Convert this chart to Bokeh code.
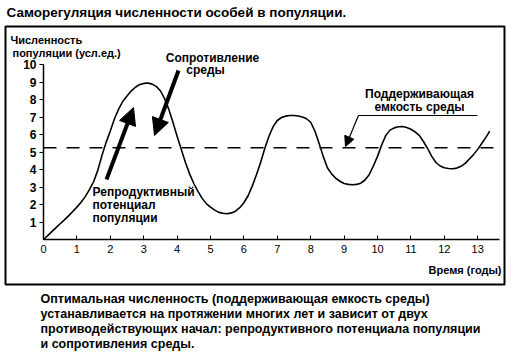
from bokeh.plotting import figure
from bokeh.models import LinearAxis, FixedTicker, Range1d, Label, Arrow, NormalHead
from bokeh.embed import file_html
from bokeh.resources import INLINE

# ---- data ----
years = [0, 0.125, 0.25, 0.375, 0.5, 0.625, 0.75, 0.875, 1.0, 1.125, 1.25, 1.375,
         1.5, 1.625, 1.75, 1.875, 2.0, 2.125, 2.25, 2.375, 2.5, 2.625, 2.75, 2.875,
         3.0, 3.125, 3.25, 3.375, 3.5, 3.625, 3.75, 3.875, 4.0, 4.125, 4.25, 4.375,
         4.5, 4.625, 4.75, 4.875, 5.0, 5.125, 5.25, 5.375, 5.5, 5.625, 5.75, 5.875,
         6.0, 6.125, 6.25, 6.375, 6.5, 6.625, 6.75, 6.875, 7.0, 7.125, 7.25, 7.375,
         7.5, 7.625, 7.75, 7.875, 8.0, 8.125, 8.25, 8.375, 8.5, 8.625, 8.75, 8.875,
         9.0, 9.125, 9.25, 9.375, 9.5, 9.625, 9.75, 9.875, 10.0, 10.125, 10.25, 10.375,
         10.5, 10.625, 10.75, 10.875, 11.0, 11.125, 11.25, 11.375, 11.5, 11.625, 11.75,
         11.875, 12.0, 12.125, 12.25, 12.375, 12.5, 12.625, 12.75, 12.875, 13.0, 13.125,
         13.25, 13.36]
population = [0, 0.22, 0.45, 0.68, 0.9, 1.12, 1.35, 1.6, 1.85, 2.13, 2.45, 2.85,
              3.3, 3.95, 4.8, 5.55, 6.2, 6.9, 7.45, 7.9, 8.2, 8.48, 8.7, 8.85,
              8.92, 8.94, 8.88, 8.75, 8.5, 8.05, 7.45, 6.7, 5.9, 5.15, 4.4, 3.75,
              3.2, 2.75, 2.35, 2.05, 1.85, 1.68, 1.55, 1.5, 1.47, 1.52, 1.62, 1.82,
              2.1, 2.5, 3.05, 3.7, 4.4, 5.2, 5.9, 6.45, 6.8, 6.97, 7.05, 7.09,
              7.09, 7.06, 7.0, 6.9, 6.7, 6.2, 5.5, 4.75, 4.1, 3.75, 3.5, 3.33,
              3.2, 3.15, 3.13, 3.15, 3.22, 3.4, 3.7, 4.2, 4.75, 5.4, 5.95, 6.25,
              6.38, 6.44, 6.46, 6.4, 6.3, 6.15, 5.95, 5.6, 5.2, 4.75, 4.4,
              4.2, 4.1, 4.06, 4.04, 4.08, 4.18, 4.35, 4.6, 4.85, 5.15, 5.5,
              5.85, 6.19]
carrying_capacity = 5.24
x_ticks = list(range(0, 14))
y_ticks = list(range(1, 11))

title_text = "Саморегуляция численности особей в популяции."
ylabel_lines = ["Численность", "популяции (усл.ед.)"]
xlabel_text = "Время (годы)"
resist_lines = ["Сопротивление", "среды"]
repro_lines = ["Репродуктивный", "потенциал", "популяции"]
capacity_lines = ["Поддерживающая", "емкость среды"]
caption_lines = [
    "Оптимальная численность (поддерживающая емкость среды)",
    "устанавливается на протяжении многих лет и зависит от двух",
    "противодействующих начал: репродуктивного потенциала популяции",
    "и сопротивления среды.",
]

# ---- pixel <-> data mapping (frame covers the whole canvas) ----
X0, SX = 43.0, 33.4
Y0, SY = 239.0, 17.5
def X(px):
    return (px - X0) / SX
def Y(py):
    return (Y0 - py) / SY

W, H = 523, 359
FONT = "Liberation Sans"

p = figure(width=W, height=H, x_range=Range1d(X(0), X(W)), y_range=Range1d(Y(H), Y(0)),
           min_border=0, toolbar_location=None, output_backend="svg",
           x_axis_location=None, y_axis_location=None, outline_line_color=None,
           background_fill_color="white", border_fill_color="white")
p.grid.visible = False
p.styles = {"position": "absolute", "left": "0px", "top": "0px"}

# outer box
p.quad(left=[X(5)], right=[X(504)], top=[Y(26)], bottom=[Y(284)],
       fill_color=None, line_color="black", line_width=2)

# axes
xaxis = LinearAxis(fixed_location=0, bounds=(0, X(499)), ticker=FixedTicker(ticks=x_ticks),
                   major_tick_in=4, major_tick_out=0, minor_tick_in=0, minor_tick_out=0,
                   axis_line_width=1.5, axis_line_color="black", major_tick_line_color="black",
                   major_label_text_font=FONT, major_label_text_font_size="11px",
                   major_label_text_color="black", major_label_standoff=5)
p.add_layout(xaxis, "below")
yaxis = LinearAxis(fixed_location=0, bounds=(0, 10), ticker=FixedTicker(ticks=y_ticks),
                   major_tick_in=0, major_tick_out=4, minor_tick_in=0, minor_tick_out=0,
                   axis_line_width=1.5, axis_line_color="black", major_tick_line_color="black",
                   major_label_text_font=FONT, major_label_text_font_size="12px",
                   major_label_text_font_style="bold",
                   major_label_text_color="black", major_label_standoff=3)
p.add_layout(yaxis, "left")

# carrying capacity dashed line
p.line([0, X(499)], [carrying_capacity, carrying_capacity], line_color="black",
       line_width=1.5, line_dash="13 10")

# population curve
p.line(years, population, line_color="black", line_width=1.6, line_join="round")

# arrows
p.add_layout(Arrow(x_start=X(106), y_start=Y(179), x_end=X(133), y_end=Y(107),
                   line_width=4, line_color="black",
                   end=NormalHead(size=17, fill_color="black", line_color="black", line_width=1)))
p.add_layout(Arrow(x_start=X(178), y_start=Y(70), x_end=X(154), y_end=Y(135),
                   line_width=4, line_color="black",
                   end=NormalHead(size=17, fill_color="black", line_color="black", line_width=1)))
p.line([X(477), X(358)], [Y(115), Y(115)], line_color="black", line_width=1.2)
p.add_layout(Arrow(x_start=X(358), y_start=Y(115), x_end=X(345), y_end=Y(146),
                   line_width=1.2, line_color="black",
                   end=NormalHead(size=10, fill_color="black", line_color="black", line_width=1)))

def lab(px, py, text, size="12px", style="normal", align="left"):
    p.add_layout(Label(x=X(px), y=Y(py), text=text, text_font=FONT, text_font_size=size,
                       text_font_style=style, text_align=align, text_baseline="middle",
                       text_color="black"))

lab(6, 12, title_text, size="13.5px", style="bold")
lab(10, 39, ylabel_lines[0], size="11px", style="bold")
lab(12, 52, ylabel_lines[1], size="11px", style="bold")
lab(212, 57, resist_lines[0], style="bold", align="center")
lab(205, 69, resist_lines[1], style="bold", align="center")
for i, t in enumerate(repro_lines):
    lab(92, 191 + 13 * i, t, style="bold")
for i, t in enumerate(capacity_lines):
    lab(419, 93 + 13 * i, t, style="bold", align="center")
lab(501, 269, xlabel_text, size="11px", style="bold", align="right")
for i, t in enumerate(caption_lines):
    lab(40, 298 + 15 * i, t, size="12.5px", style="bold")

open("out.html", "w").write(file_html(p, INLINE))
